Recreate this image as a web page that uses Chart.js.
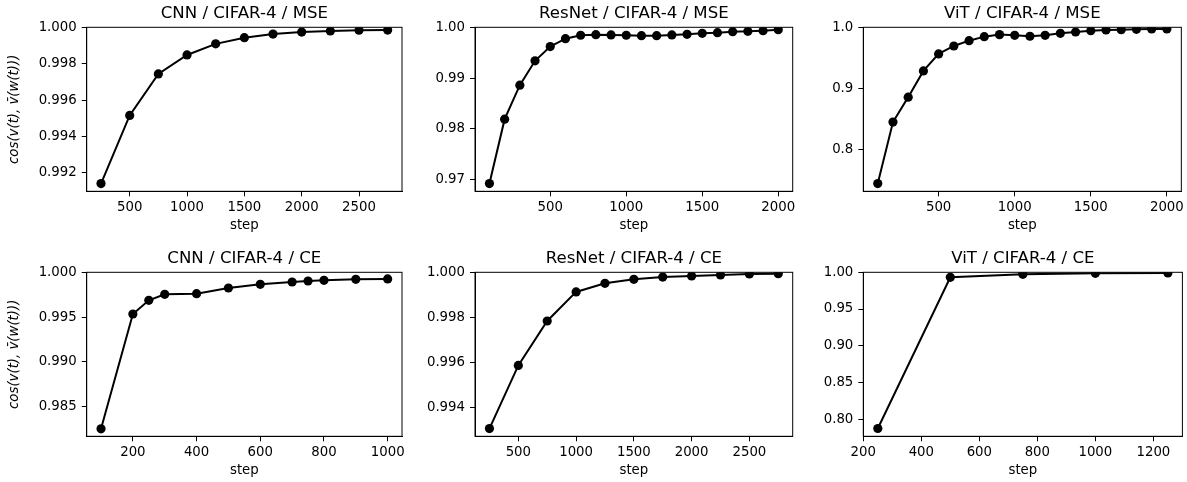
<!DOCTYPE html>
<html>
<head>
<meta charset="utf-8">
<script src="https://cdn.jsdelivr.net/npm/chart.js@4.4.0/dist/chart.umd.min.js"></script>
<style>
  html, body { margin: 0; padding: 0; background: #fff; }
  #fig { position: relative; width: 1187px; height: 482px; overflow: hidden; }
  #fig canvas { position: absolute; }
</style>
</head>
<body>
<div id="fig"></div>
<script>
// Titulos de cada panel
const titles = [
    'CNN / CIFAR-4 / MSE', 'ResNet / CIFAR-4 / MSE', 'ViT / CIFAR-4 / MSE',
    'CNN / CIFAR-4 / CE', 'ResNet / CIFAR-4 / CE', 'ViT / CIFAR-4 / CE'
];
const yTitle = 'cos(v(t), v\u0304(w(t)))';
const xTitle = 'step';

// Datos por panel
const cnnMseSteps = [250, 500, 750, 1000, 1250, 1500, 1750, 2000, 2250, 2500, 2750];
const cnnMseCos = [0.99141, 0.99516, 0.99744, 0.99848, 0.99909, 0.99943, 0.99963, 0.99974, 0.99980, 0.99984, 0.99985];

const resnetMseSteps = [100, 200, 300, 400, 500, 600, 700, 800, 900, 1000, 1100, 1200, 1300, 1400, 1500, 1600, 1700, 1800, 1900, 2000];
const resnetMseCos = [0.9692, 0.9819, 0.9886, 0.9934, 0.9962, 0.99776, 0.99843, 0.99855, 0.9985, 0.99843, 0.99835, 0.99835, 0.9985, 0.99862, 0.99882, 0.99895, 0.99914, 0.9992, 0.99934, 0.99953];

const vitMseSteps = [100, 200, 300, 400, 500, 600, 700, 800, 900, 1000, 1100, 1200, 1300, 1400, 1500, 1600, 1700, 1800, 1900, 2000];
const vitMseCos = [0.744, 0.8448, 0.8856, 0.9286, 0.9564, 0.9694, 0.9781, 0.9847, 0.9880, 0.9869, 0.9853, 0.9869, 0.9902, 0.9923, 0.9945, 0.9956, 0.9961, 0.9967, 0.9972, 0.9972];

const cnnCeSteps = [100, 200, 250, 300, 400, 500, 600, 700, 750, 800, 900, 1000];
const cnnCeCos = [0.98255, 0.99535, 0.99688, 0.99754, 0.99762, 0.99825, 0.99866, 0.99892, 0.99903, 0.99911, 0.99922, 0.99926];

const resnetCeSteps = [250, 500, 750, 1000, 1250, 1500, 1750, 2000, 2250, 2500, 2750];
const resnetCeCos = [0.99307, 0.99587, 0.99784, 0.99913, 0.99951, 0.99969, 0.99979, 0.99984, 0.99988, 0.99993, 0.99994];

const vitCeSteps = [250, 500, 750, 1000, 1250];
const vitCeCos = [0.7873, 0.9932, 0.9973, 0.9986, 0.9991];

// Ticks de cada panel
const xTicks2750 = [500, 1000, 1500, 2000, 2500];
const xTicks2000 = [500, 1000, 1500, 2000];
const xTicksCnnCe = [200, 400, 600, 800, 1000];
const xTicksVitCe = [200, 400, 600, 800, 1000, 1200];
const yTicksCnnMse = [0.992, 0.994, 0.996, 0.998, 1.000];
const yTicksResnetMse = [0.97, 0.98, 0.99, 1.00];
const yTicksVitMse = [0.8, 0.9, 1.0];
const yTicksCnnCe = [0.985, 0.990, 0.995, 1.000];
const yTicksResnetCe = [0.994, 0.996, 0.998, 1.000];
const yTicksVitCe = [0.80, 0.85, 0.90, 0.95, 1.00];
const yDecimals = [3, 2, 1, 3, 3, 2];

const panels = [
    { steps: cnnMseSteps, cos: cnnMseCos, xTicks: xTicks2750, yTicks: yTicksCnnMse },
    { steps: resnetMseSteps, cos: resnetMseCos, xTicks: xTicks2000, yTicks: yTicksResnetMse },
    { steps: vitMseSteps, cos: vitMseCos, xTicks: xTicks2000, yTicks: yTicksVitMse },
    { steps: cnnCeSteps, cos: cnnCeCos, xTicks: xTicksCnnCe, yTicks: yTicksCnnCe },
    { steps: resnetCeSteps, cos: resnetCeCos, xTicks: xTicks2750, yTicks: yTicksResnetCe },
    { steps: vitCeSteps, cos: vitCeCos, xTicks: xTicksVitCe, yTicks: yTicksVitCe }
];

// Posicion de columnas / filas (pixeles)
const cols = [
    { left: 0, width: 410, axisW: 86.7, padRight: 8 },
    { left: 405, width: 395, axisW: 70, padRight: 7.3 },
    { left: 795, width: 392, axisW: 68.3, padRight: 4.3 }
];
const rowTops = [0, 245];
const rowH = 237;
const plotTop = 27.3;
const plotBottom = 191.3;

const FONT = "'DejaVu Sans', 'Liberation Sans', sans-serif";
const tickFont = { family: FONT, size: 13.3 };
const titleSize = 16.6;

// Marco completo y titulo centrado sobre el area del grafico
const framePlugin = {
    id: 'frame',
    afterDraw(chart) {
        const { ctx, chartArea: a } = chart;
        ctx.save();
        ctx.strokeStyle = '#000';
        ctx.lineWidth = 1;
        ctx.strokeRect(a.left, a.top, a.right - a.left, a.bottom - a.top);
        ctx.fillStyle = '#000';
        ctx.font = `${titleSize}px ${FONT}`;
        ctx.textAlign = 'center';
        ctx.textBaseline = 'alphabetic';
        ctx.fillText(chart.options.panelTitle, (a.left + a.right) / 2, a.top - 9);
        ctx.restore();
    }
};

function padRange(min, max) {
    const m = (max - min) * 0.05;
    return [min - m, max + m];
}

function buildPanel(i) {
    const p = panels[i];
    const col = cols[i % 3];
    const row = Math.floor(i / 3);

    const canvas = document.createElement('canvas');
    canvas.width = col.width;
    canvas.height = rowH;
    canvas.style.left = col.left + 'px';
    canvas.style.top = rowTops[row] + 'px';
    document.getElementById('fig').appendChild(canvas);

    const [xMin, xMax] = padRange(Math.min(...p.steps), Math.max(...p.steps));
    const [yMin] = padRange(Math.min(...p.cos), Math.max(...p.cos));

    new Chart(canvas.getContext('2d'), {
        type: 'line',
        data: {
            datasets: [{
                data: p.steps.map((s, k) => ({ x: s, y: p.cos[k] })),
                borderColor: '#000',
                borderWidth: 2,
                pointRadius: 4.6,
                pointBackgroundColor: '#000',
                pointBorderWidth: 0,
                tension: 0
            }]
        },
        options: {
            panelTitle: titles[i],
            responsive: false,
            animation: false,
            events: [],
            layout: { padding: { left: 0, right: col.padRight, top: plotTop, bottom: 0 } },
            plugins: {
                legend: { display: false },
                tooltip: { enabled: false },
                title: { display: false }
            },
            scales: {
                x: {
                    type: 'linear',
                    min: xMin,
                    max: xMax,
                    afterBuildTicks: s => { s.ticks = p.xTicks.map(v => ({ value: v })); },
                    afterFit: s => { s.height = rowH - plotBottom; },
                    ticks: { color: '#000', font: tickFont, padding: 3, maxRotation: 0, callback: v => String(v) },
                    grid: { drawOnChartArea: false, tickLength: 5, tickColor: '#000', tickWidth: 1 },
                    border: { display: true, color: '#000', width: 1 },
                    title: { display: true, text: xTitle, color: '#000', font: tickFont, padding: { top: 0, bottom: 3 } }
                },
                y: {
                    type: 'linear',
                    min: yMin,
                    max: 1.0,
                    afterBuildTicks: s => { s.ticks = p.yTicks.map(v => ({ value: v })); },
                    afterFit: s => { s.width = col.axisW; },
                    ticks: {
                        color: '#000', font: tickFont, padding: 5,
                        callback: v => Number(v).toFixed(yDecimals[i])
                    },
                    grid: { drawOnChartArea: false, tickLength: 5, tickColor: '#000', tickWidth: 1 },
                    border: { display: true, color: '#000', width: 1 },
                    title: {
                        display: i % 3 === 0,
                        text: yTitle,
                        color: '#000',
                        font: { family: FONT, size: 13.3, style: 'italic' },
                        padding: { top: 7, bottom: 0 }
                    }
                }
            }
        },
        plugins: [framePlugin]
    });
}

for (let i = 0; i < panels.length; i++) buildPanel(i);
</script>
</body>
</html>
